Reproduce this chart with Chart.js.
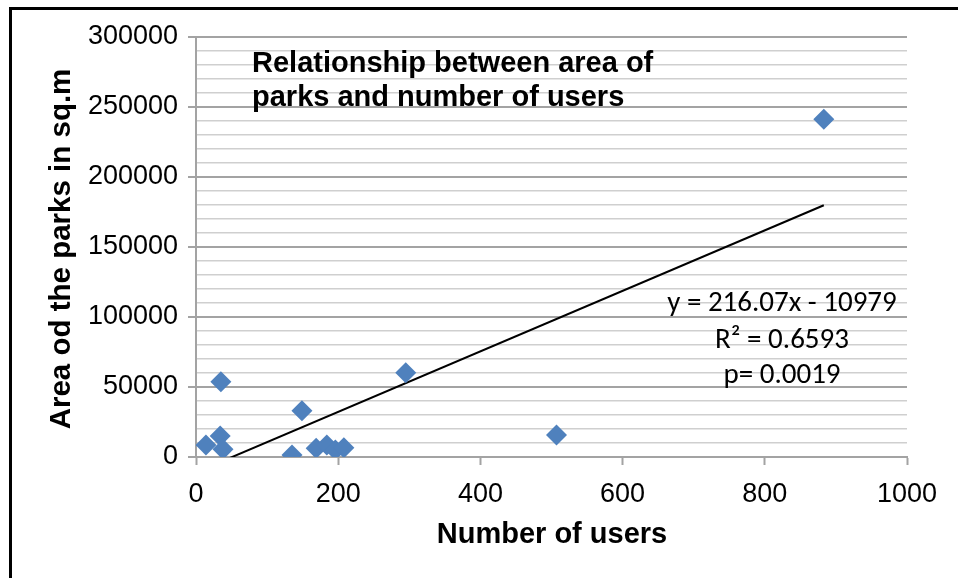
<!DOCTYPE html>
<html>
<head>
<meta charset="utf-8">
<script src="https://cdn.jsdelivr.net/npm/chart.js@4/dist/chart.umd.min.js"></script>
<style>
  html, body { margin: 0; padding: 0; background: #fff; }
  #wrap { position: relative; width: 958px; height: 578px; }
</style>
</head>
<body>
<div id="wrap"><canvas id="parksChart"></canvas></div>
<script>
// Data
const users = [14, 35, 34, 38, 135, 149, 169, 184, 196, 208, 295, 507, 883];
const parkArea = [8600, 53800, 15000, 5500, 1400, 33100, 6200, 8600, 5000, 6600, 60200, 15700, 241200];

// Linear trendline, as printed on the chart
const slope = 216.07;
const intercept = -10979;
const trendLabels = ['y = 216.07x - 10979', 'R\u00b2 = 0.6593', 'p= 0.0019'];

const chartTitle = ['Relationship between area of', 'parks and number of users'];
const xTitle = 'Number of users';
const yTitle = 'Area od the parks in sq.m';

const xTicks = [0, 200, 400, 600, 800, 1000];
const yMajor = 50000;

const points = users.map((u, i) => ({ x: u, y: parkArea[i] }));
const trendX = [Math.min(...users), Math.max(...users)];
const trend = trendX.map(x => ({ x: x, y: slope * x + intercept }));

const GRID_MAJOR = '#a3a3a3';
const GRID_MINOR = '#cfcfcf';
const SANS = '"Liberation Sans", Arial, sans-serif';

const textPlugin = {
  id: 'texts',
  afterDraw(chart) {
    const ctx = chart.ctx;
    ctx.save();
    ctx.fillStyle = '#000';

    // title inside the plot
    ctx.font = 'bold 29px ' + SANS;
    ctx.textAlign = 'left';
    ctx.textBaseline = 'alphabetic';
    ctx.fillText(chartTitle[0], 252, 72);
    ctx.fillText(chartTitle[1], 252, 106);

    // trendline equation
    ctx.font = '29px Carlito, Lato, sans-serif';
    ctx.textAlign = 'center';
    ctx.textBaseline = 'middle';
    ctx.fillText(trendLabels[0], 782, 304);
    ctx.fillText(trendLabels[1], 782, 341);
    ctx.fillText(trendLabels[2], 782, 376);

    // axis titles
    ctx.font = 'bold 29px ' + SANS;
    ctx.fillText(xTitle, 552, 535);
    ctx.translate(62, 249);
    ctx.rotate(-Math.PI / 2);
    ctx.font = 'bold 29.5px ' + SANS;
    ctx.fillText(yTitle, 0, 0);
    ctx.restore();

    // outer frame
    ctx.save();
    ctx.strokeStyle = '#000';
    ctx.lineWidth = 3;
    ctx.strokeRect(10.5, 8.5, 1000, 1000);
    ctx.restore();
  }
};

new Chart(document.getElementById('parksChart'), {
  type: 'scatter',
  data: {
    datasets: [
      {
        label: 'Parks',
        data: points,
        pointStyle: 'rectRot',
        pointRadius: 10.5,
        pointHoverRadius: 10.5,
        backgroundColor: '#4f81bd',
        borderColor: '#4f81bd',
        borderWidth: 0
      },
      {
        label: 'Trend',
        type: 'line',
        data: trend,
        borderColor: '#000',
        borderWidth: 2,
        pointRadius: 0,
        fill: false,
        clip: 0
      }
    ]
  },
  options: {
    responsive: true,
    maintainAspectRatio: false,
    animation: false,
    events: [],
    layout: { padding: { left: 0, top: 37, right: 51, bottom: 0 } },
    plugins: {
      legend: { display: false },
      tooltip: { enabled: false }
    },
    scales: {
      x: {
        type: 'linear',
        min: 0,
        max: 1000,
        afterFit: s => { s.height = 121; },
        afterBuildTicks: s => { s.ticks = xTicks.map(v => ({ value: v })); },
        grid: {
          drawOnChartArea: false,
          tickLength: 8,
          tickColor: GRID_MAJOR,
          tickWidth: 2
        },
        border: { color: GRID_MAJOR, width: 2 },
        ticks: {
          color: '#000',
          padding: 13,
          font: { family: SANS, size: 27 },
          callback: v => String(v)
        }
      },
      y: {
        min: 0,
        max: 300000,
        afterFit: s => { s.width = 196; },
        grid: {
          color: c => (c.tick && c.tick.value % yMajor === 0) ? GRID_MAJOR : GRID_MINOR,
          lineWidth: c => (c.tick && c.tick.value % yMajor === 0) ? 2 : 1.5,
          tickColor: c => (c.tick && c.tick.value % yMajor === 0) ? GRID_MAJOR : 'rgba(0,0,0,0)',
          tickLength: 8,
          tickWidth: 2
        },
        border: { color: GRID_MAJOR, width: 2 },
        ticks: {
          stepSize: 10000,
          autoSkip: false,
          color: '#000',
          padding: 10,
          font: { family: SANS, size: 27 },
          callback: v => (v % yMajor === 0 ? String(v) : '')
        }
      }
    }
  },
  plugins: [textPlugin]
});
</script>
</body>
</html>
